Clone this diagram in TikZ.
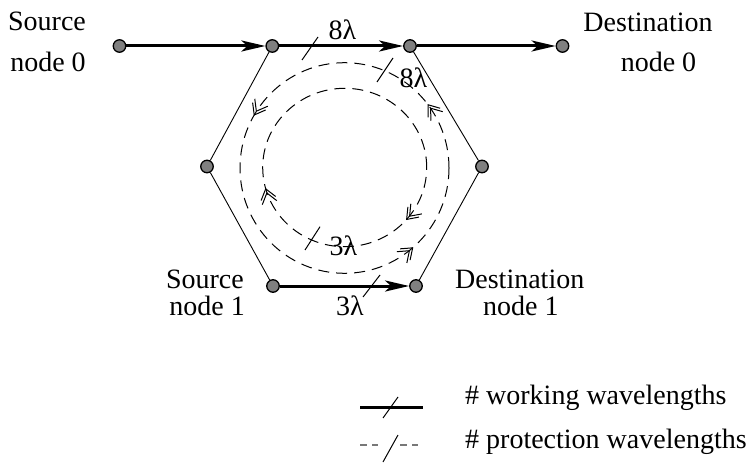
\documentclass[tikz,border=0pt]{standalone}
\usepackage{fontspec}
\setmainfont{Liberation Serif}
\usetikzlibrary{arrows.meta,decorations.markings}
\definecolor{nodegray}{RGB}{128,128,128}
\definecolor{leggray}{RGB}{120,120,120}
\begin{document}
\begin{tikzpicture}[x=1pt,y=1pt,
  netnode/.style={circle, draw=black, line width=1.3pt, fill=nodegray, inner sep=0pt, minimum size=12.5pt},
  lbl/.style={font=\fontsize{28}{33}\selectfont, inner sep=0pt},
  work/.style={line width=3pt, -{Stealth[length=24pt,width=11pt,inset=6pt]}},
  hexline/.style={line width=0.9pt},
  prot/.style={line width=1pt, dash pattern=on 11pt off 7pt},
  tickmark/.style={line width=1pt},
  barb/.tip={Straight Barb[length=10pt,width=15pt,line width=1pt,sep=-7pt]Straight Barb[length=10pt,width=15pt,line width=1pt]},
  ccwarrows/.style={postaction={decorate}, decoration={markings,
     mark=at position 0.104 with {\arrow{barb}},
     mark=at position 0.417 with {\arrow{barb}},
     mark=at position 0.864 with {\arrow{barb}}}},
  cwarrows/.style={postaction={decorate}, decoration={markings,
     mark=at position 0.541 with {\arrowreversed{barb}},
     mark=at position 0.886 with {\arrowreversed{barb}}}},
]
\useasboundingbox (0,0) rectangle (751,464);

% protection rings
\coordinate (ctr) at (344.5,296);
\draw[prot, ccwarrows] (ctr) ellipse [x radius=104.5, y radius=105.3];
\draw[prot, cwarrows] (344.7,296.5) ellipse [x radius=82, y radius=79.2];

% nodes
\node[netnode] (s0) at (119.5,418) {};
\node[netnode] (tl) at (272.3,418) {};
\node[netnode] (tr) at (410,418) {};
\node[netnode] (d0) at (562.5,418) {};
\node[netnode] (l)  at (207,297.5) {};
\node[netnode] (r)  at (482,297.5) {};
\node[netnode] (bl) at (273,178) {};
\node[netnode] (br) at (416,178) {};

% ring links
\draw[hexline] (tl) -- (l) -- (bl);
\draw[hexline] (tr) -- (r) -- (br);

% working paths
\draw[work] (s0) -- (tl);
\draw[work] (tl) -- (tr);
\draw[work] (tr) -- (d0);
\draw[work] (bl) -- (br);

% wavelength ticks
\draw[tickmark] (318,427) -- (302,404);
\draw[tickmark] (393,406) -- (377,382);
\draw[tickmark] (320,237.3) -- (305,214);
\draw[tickmark] (380,189) -- (363,167);

% labels
\node[lbl, anchor=base] (src0a) at (47,433.3) {Source};
\node[lbl, anchor=base] (src0b) at (48,392.3) {node 0};
\node[lbl, anchor=base] (dst0a) at (648,432.3) {Destination};
\node[lbl, anchor=base] (dst0b) at (658.5,392.3) {node 0};
\node[lbl, anchor=base east] (src1a) at (244,176) {Source};
\node[lbl, anchor=base east] (src1b) at (245,149) {node 1};
\node[lbl, anchor=base west] (dst1a) at (455,176) {Destination};
\node[lbl, anchor=base west] (dst1b) at (483,149) {node 1};
\node[lbl, anchor=base] (w8a) at (342.5,424) {8λ};
\node[lbl, anchor=base] (p8a) at (413.5,376) {8λ};
\node[lbl, anchor=base] (p3a) at (343.3,209) {3λ};
\node[lbl, anchor=base] (w3a) at (350,149) {3λ};

% legend
\coordinate (lw1) at (360,57);
\coordinate (lw2) at (423,57);
\draw[line width=3pt] (lw1) -- (lw2);
\draw[tickmark] (398,67) -- (383,46);
\node[lbl, anchor=base west] (legw) at (465,60) {\# working wavelengths};
\coordinate (lp1) at (360,19);
\coordinate (lp2) at (418,19);
\draw[line width=1.5pt, leggray, dash pattern=on 7pt off 5pt on 6pt off 22pt on 7pt off 5pt on 6pt off 20pt] (lp1) -- (lp2);
\draw[tickmark] (398,29) -- (383,2);
\node[lbl, anchor=base west] (legp) at (465,16) {\# protection wavelengths};
\end{tikzpicture}
\end{document}
